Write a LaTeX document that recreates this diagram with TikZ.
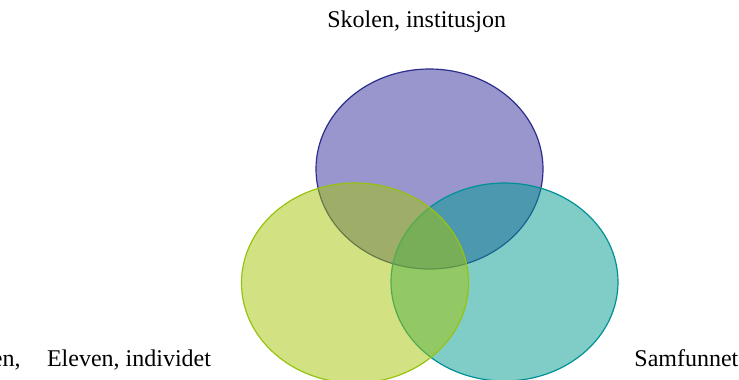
\documentclass[tikz,border=0pt]{standalone}
\usepackage{fontspec}
\setmainfont{Liberation Serif}
\definecolor{purpBase}{RGB}{49,45,153}
\definecolor{purpLine}{RGB}{45,45,140}
\definecolor{greenBase}{RGB}{165,197,5}
\definecolor{greenLine}{RGB}{150,195,15}
\definecolor{tealBase}{RGB}{1,155,145}
\definecolor{tealLine}{RGB}{0,145,150}
\tikzset{
  venn/.style={fill opacity=0.5, line width=0.6pt},
  lbl/.style={anchor=base west, inner sep=0pt, font=\fontsize{12}{14}\selectfont}
}
\begin{document}
\begin{tikzpicture}[x=0.5pt,y=-0.5pt]
\useasboundingbox (0,0) rectangle (739,380);
\draw[venn, draw=purpLine, fill=purpBase] (429.5,169) ellipse [x radius=56.75pt, y radius=50pt];
\draw[venn, draw=tealLine, fill=tealBase] (504.5,282) ellipse [x radius=56.75pt, y radius=49.5pt];
\draw[venn, draw=greenLine, fill=greenBase] (355,283) ellipse [x radius=56.75pt, y radius=50pt];
\node[lbl] (skolen) at (327,27) {Skolen, institusjon};
\node[lbl] (eleven) at (-8.5,366) {en,\hspace{26.5\dimexpr0.5pt\relax}Eleven, individet};
\node[lbl] (samf) at (634,366) {Samfunnet};
\end{tikzpicture}
\end{document}
